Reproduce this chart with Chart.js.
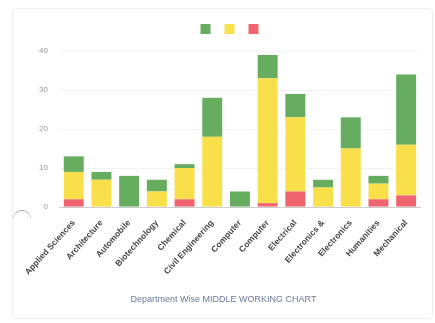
<!DOCTYPE html>
<html>
<head>
<meta charset="utf-8">
<script src="https://cdn.jsdelivr.net/npm/chart.js@4"></script>
<style>
    html, body { margin: 0; padding: 0; background: #ffffff; }
    body { width: 435px; height: 323px; position: relative; overflow: hidden; font-family: "Open Sans", "DejaVu Sans", sans-serif; }
    .card { position: absolute; left: 12px; top: 8px; width: 419px; height: 309px; border: 1px solid #eeeeee; border-radius: 4px; }
    .card canvas { position: absolute; left: 0; top: 0; }
    .spinner { position: absolute; left: 13px; top: 210px; width: 18px; height: 18px; border-radius: 50%; border-top: 1.5px solid #999999; }
</style>
</head>
<body>
<div class="card"><canvas id="deptChart" width="419" height="309"></canvas></div>
<div class="spinner"></div>
<script>
// Department wise stacked counts
const departments = ['Applied Sciences', 'Architecture', 'Automobile', 'Biotechnology', 'Chemical',
    'Civil Engineering', 'Computer', 'Computer', 'Electrical', 'Electronics &', 'Electronics',
    'Humanities', 'Mechanical'];
const redValues    = [2, 0, 0, 0, 2, 0, 0, 1, 4, 0, 0, 2, 3];
const yellowValues = [7, 7, 0, 4, 8, 18, 0, 32, 19, 5, 15, 4, 13];
const greenValues  = [4, 2, 8, 3, 1, 10, 4, 6, 6, 2, 8, 2, 18];
const yTicks = [0, 10, 20, 30, 40];

// extra room under the legend, and nudge it right a bit
const legendSpacer = {
    id: 'legendSpacer',
    beforeInit(chart) {
        const origFit = chart.legend.fit;
        chart.legend.fit = function () {
            origFit.bind(chart.legend)();
            this.height += 6;
        };
    },
    afterLayout(chart) {
        chart.legend.left += 9;
        chart.legend.right += 9;
    }
};

const ctx = document.getElementById('deptChart').getContext('2d');

new Chart(ctx, {
    type: 'bar',
    data: {
        labels: departments,
        datasets: [
            { label: '', data: redValues, backgroundColor: '#f0646f' },
            { label: '', data: yellowValues, backgroundColor: '#f9e04a' },
            { label: '', data: greenValues, backgroundColor: '#67ad60' }
        ]
    },
    options: {
        responsive: false,
        animation: false,
        layout: { padding: { left: 14, right: 12, top: 6, bottom: 7 } },
        plugins: {
            legend: {
                position: 'top',
                reverse: true,
                labels: { boxWidth: 10, boxHeight: 10, padding: 8, font: { size: 12 } }
            },
            title: {
                display: true,
                position: 'bottom',
                text: 'Department Wise MIDDLE WORKING CHART',
                color: '#6b7a99',
                font: { size: 9, weight: 'normal' },
                padding: { top: 14, bottom: 6 }
            },
            tooltip: { enabled: false }
        },
        scales: {
            x: {
                stacked: true,
                grid: { display: false },
                border: { color: '#cccccc' },
                ticks: {
                    color: '#444444',
                    font: { size: 8.5, weight: 'bold' },
                    maxRotation: 48,
                    minRotation: 48,
                    autoSkip: false
                }
            },
            y: {
                stacked: true,
                min: 0,
                max: 40,
                afterBuildTicks: axis => { axis.ticks = yTicks.map(v => ({ value: v })); },
                grid: { color: '#f3f3f3', drawTicks: false },
                border: { display: false },
                ticks: { color: '#999999', font: { size: 8 }, padding: 12 }
            }
        }
    },
    plugins: [legendSpacer]
});
</script>
</body>
</html>
